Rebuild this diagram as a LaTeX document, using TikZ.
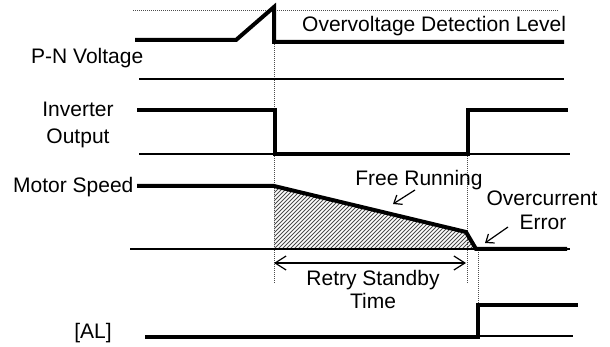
\documentclass[tikz,border=0pt]{standalone}
\usepackage{fontspec}
\setmainfont{Liberation Sans}
\usetikzlibrary{arrows.meta}
\begin{document}
\begin{tikzpicture}[x=1pt,y=-1pt,
  thickw/.style={line width=4pt,line join=miter},
  thinw/.style={line width=1.6pt},
  dotw/.style={line width=0.8pt,dash pattern=on 1pt off 1pt,black!70},
  lbl/.style={font=\fontsize{21}{27}\selectfont,inner sep=0pt},
  bigarr/.style={line width=1.2pt,{Straight Barb[length=11pt,width=14pt]}-{Straight Barb[length=11pt,width=14pt]}},
  smallarr/.style={line width=1.2pt,-{Straight Barb[length=7pt,width=11pt]}}]
\useasboundingbox (0,0) rectangle (610,347);
% dotted guide lines
\draw[dotw] (133,10) -- (558,10);
\draw[dotw] (274,8) -- (274,283);
\draw[dotw] (467,110) -- (467,284);
\draw[dotw] (478,250) -- (478,304);
% hatched region
\begin{scope}
  \clip (274,186) -- (466,232) -- (476,249) -- (274,249) -- cycle;
  \foreach \i in {180,184,...,500}
    \draw[line width=0.9pt,black!70] (\i,251) -- (\i+90,161);
\end{scope}
% P-N voltage
\draw[thickw] (135,40) -- (236,40) -- (274,7) -- (274,42) -- (564,42);
\draw[thinw] (139,79) -- (564,79);
% Inverter output
\draw[thinw] (139,154) -- (570,154);
\draw[thickw] (137,110) -- (275,110) -- (275,154) -- (468,154) -- (468,110) -- (568,110);
% Motor speed
\draw[thinw] (130,249) -- (570,249);
\draw[thickw] (137,186) -- (274,186) -- (466,232) -- (476,249) -- (567,249);
% AL
\draw[thinw] (478,336) -- (573,336);
\draw[thickw] (145,337) -- (478,337) -- (478,305) -- (578,305);
% arrows
\coordinate (rsL) at (274,263);
\coordinate (rsR) at (466,263);
\draw[bigarr] (rsL) -- (rsR);
\coordinate (frA) at (415,190);
\coordinate (frB) at (393,204);
\draw[smallarr] (frA) -- (frB);
\coordinate (ocA) at (508,227);
\coordinate (ocB) at (485,243);
\draw[smallarr] (ocA) -- (ocB);
% labels
\node[lbl,anchor=base west] (ovl) at (302,32) {Overvoltage Detection Level};
\node[lbl,anchor=base west] (pn) at (31,64) {P-N Voltage};
\node[lbl,anchor=base] (inv1) at (78,117) {Inverter};
\node[lbl,anchor=base] (inv2) at (78,144) {Output};
\node[lbl,anchor=base west] (ms) at (13,193) {Motor Speed};
\node[lbl,anchor=base] (fr) at (419,186) {Free Running};
\node[lbl,anchor=base] (oc1) at (542,206) {Overcurrent};
\node[lbl,anchor=base] (oc2) at (543,230) {Error};
\node[lbl,anchor=base] (rs1) at (373,285) {Retry Standby};
\node[lbl,anchor=base] (rs2) at (373,308) {Time};
\node[lbl,anchor=base] (al) at (93,338) {[AL]};
\end{tikzpicture}
\end{document}
